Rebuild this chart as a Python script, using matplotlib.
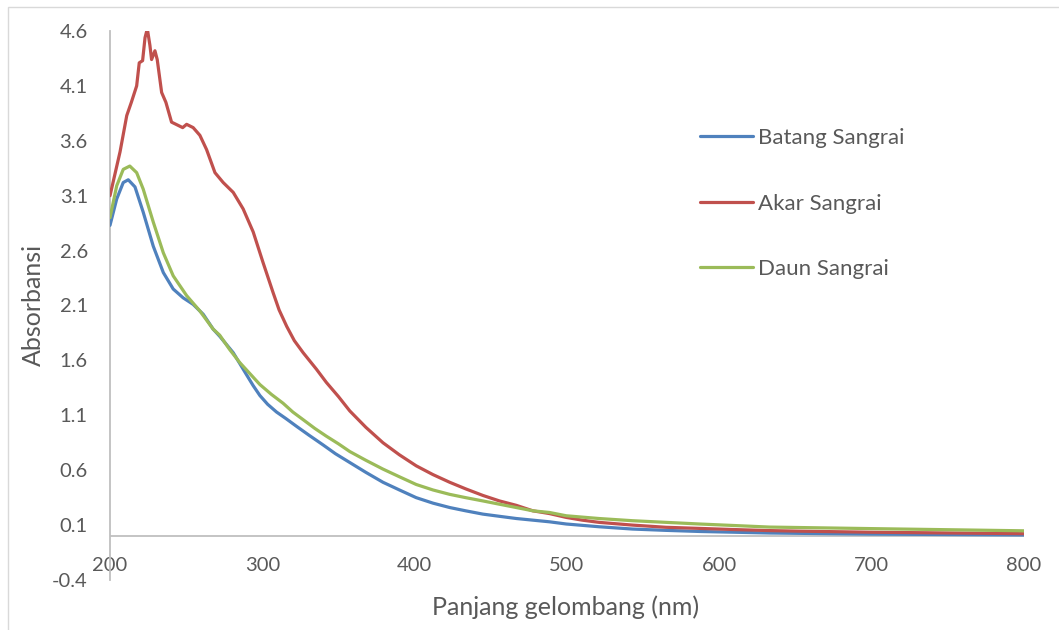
import numpy as np
import matplotlib
matplotlib.use("Agg")
import matplotlib.pyplot as plt
from matplotlib.patches import Rectangle

plt.rcParams['font.family'] = ['Lato', 'DejaVu Sans']

# absorbance spectra (wavelength in nm, absorbance)
batang_nm = [200, 204.4, 208.7, 212, 216.4, 221.8, 228.4, 235, 241.5, 248, 254.6,
             261.2, 267.7, 272, 280.9, 289.6, 294, 298.4, 303.5, 309.3, 315.5, 322.4,
             330.5, 339.9, 348, 357.4, 368, 379.2, 390, 401, 412, 423, 433.5, 444.8,
             455.7, 466.7, 477.6, 488.5, 499.5, 521, 543, 565, 587, 633, 652, 700, 800]
batang_abs = [2.83, 3.07, 3.22, 3.245, 3.18, 2.95, 2.64, 2.40, 2.25, 2.17, 2.11,
              2.02, 1.885, 1.82, 1.67, 1.47, 1.37, 1.28, 1.20, 1.13, 1.07, 1.00,
              0.92, 0.83, 0.75, 0.67, 0.58, 0.49, 0.42, 0.35, 0.30, 0.26, 0.23, 0.20,
              0.18, 0.16, 0.145, 0.13, 0.11, 0.085, 0.064, 0.052, 0.042, 0.028, 0.025, 0.018, 0.01]

akar_nm = [200, 206.6, 211, 214, 217.5, 219.2, 221.4, 223, 224.5, 226.2, 227.3,
           229.5, 231, 233.9, 236.7, 240.4, 244.8, 247.7, 250.3, 254.6, 259,
           263.4, 268.9, 274.3, 280.9, 287.4, 294, 300.5, 307, 311, 316, 321, 326.8,
           335.5, 342, 350, 357.4, 368, 379.2, 390, 401, 412, 423, 433.5, 444.8,
           455.7, 466.7, 477.6, 488.5, 499.5, 510, 521, 543, 565, 608.5, 633, 652, 700, 800]
akar_abs = [3.10, 3.50, 3.83, 3.95, 4.10, 4.31, 4.33, 4.54, 4.62, 4.47, 4.34,
            4.42, 4.34, 4.04, 3.95, 3.77, 3.74, 3.72, 3.75, 3.72, 3.65,
            3.52, 3.31, 3.22, 3.13, 2.98, 2.77, 2.49, 2.22, 2.06, 1.91, 1.78, 1.67,
            1.52, 1.40, 1.27, 1.14, 0.99, 0.85, 0.74, 0.64, 0.56, 0.49, 0.43, 0.37,
            0.32, 0.28, 0.23, 0.205, 0.17, 0.145, 0.125, 0.10, 0.08, 0.06, 0.05, 0.045, 0.035, 0.022]

daun_nm = [200, 204.4, 208.7, 213, 217.5, 221.8, 228.4, 235, 241.5, 250.3, 259,
           267.7, 272, 278.5, 285.2, 291.8, 298.4, 306, 313.6, 320, 326.8, 334.5, 342,
           350, 357.4, 368, 379.2, 390, 401, 412, 423, 433.5, 444.8, 455.7, 466.7,
           477.6, 488.5, 499.5, 521, 543, 565, 587, 633, 652, 700, 800]
daun_abs = [2.90, 3.19, 3.34, 3.37, 3.31, 3.16, 2.86, 2.58, 2.37, 2.19, 2.05,
            1.885, 1.83, 1.70, 1.58, 1.48, 1.38, 1.29, 1.21, 1.13, 1.06, 0.98, 0.91,
            0.84, 0.77, 0.69, 0.61, 0.54, 0.47, 0.42, 0.38, 0.35, 0.32, 0.29, 0.26,
            0.23, 0.215, 0.185, 0.16, 0.14, 0.125, 0.11, 0.082, 0.078, 0.068, 0.048]

series = [("Batang Sangrai", batang_nm, batang_abs, "#4F81BD"),
          ("Akar Sangrai", akar_nm, akar_abs, "#C0504D"),
          ("Daun Sangrai", daun_nm, daun_abs, "#9BBB59")]

x_ticks = [200, 300, 400, 500, 600, 700, 800]
y_ticks = [-0.4, 0.1, 0.6, 1.1, 1.6, 2.1, 2.6, 3.1, 3.6, 4.1, 4.6]

text_color = "#595959"
axis_color = "#BFBFBF"

W, H = 1059, 630
fig = plt.figure(figsize=(W / 100, H / 100), dpi=100)
ax = fig.add_axes([110 / W, (H - 580) / H, 914 / W, 549 / H])

# chart frame
fig.patches.append(Rectangle((8 / W, -0.02), 1.1, 1 - 7 / H + 0.02,
                             transform=fig.transFigure, fill=False,
                             edgecolor="#D9D9D9", linewidth=1.0))

for name, xs, ys, col in series:
    ax.plot(xs, ys, color=col, lw=2.3, label=name, solid_capstyle='round',
            solid_joinstyle='round', zorder=3)

ax.axhline(0, color=axis_color, lw=1.3, zorder=1)

ax.set_xlim(200, 800)
ax.set_ylim(-0.4, 4.6)
ax.set_xticks(x_ticks)
ax.set_yticks(y_ticks)
ax.set_xticklabels([str(v) for v in x_ticks])
ax.set_yticklabels([f"{v:.1f}" for v in y_ticks])

for s in ["top", "right", "bottom"]:
    ax.spines[s].set_visible(False)
ax.spines["left"].set_color(axis_color)
ax.spines["left"].set_linewidth(1.3)

ax.tick_params(axis='both', length=0, labelsize=14.5, colors=text_color)
ax.tick_params(axis='y', pad=16)
ax.tick_params(axis='x', pad=-16.5)

ax.set_xlabel("Panjang gelombang (nm)", fontsize=18, color=text_color, va='center')
ax.xaxis.set_label_coords(0.498, -0.049)
ax.set_ylabel("Absorbansi", fontsize=18, color=text_color, va='center', ha='center')
ax.yaxis.set_label_coords(-0.0842, 0.501)

leg = ax.legend(loc='upper left', bbox_to_anchor=(0.6455, 0.823), frameon=False,
                fontsize=16, handlelength=2.39, handletextpad=0.23, labelspacing=2.04,
                borderaxespad=0, borderpad=0)
for t in leg.get_texts():
    t.set_color(text_color)

fig.savefig("out.png", dpi=100)
